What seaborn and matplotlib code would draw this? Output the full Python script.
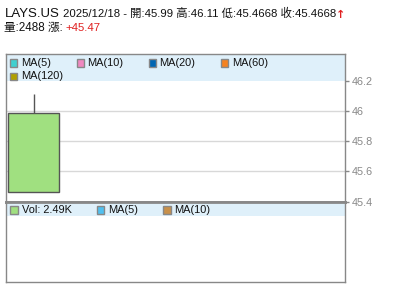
import matplotlib
matplotlib.use("Agg")
import matplotlib.pyplot as plt
from matplotlib.patches import Rectangle
import seaborn as sns
import pandas as pd

# ---- data ----
symbol = "LAYS.US"
date = "2025/12/18"
open_p = [45.99]
high_p = [46.11]
low_p = [45.4668]
close_p = [45.4668]
volume = [2488]
change = "+45.47"
price_ticks = [45.4, 45.6, 45.8, 46.0, 46.2]
price_tick_labels = ["45.4", "45.6", "45.8", "46", "46.2"]
price_legend = ["MA(5)", "MA(10)", "MA(20)", "MA(60)", "MA(120)"]
price_legend_colors = ["#40d0d0", "#f088c0", "#0066b3", "#f58220", "#b0a000"]
vol_legend = ["Vol: 2.49K", "MA(5)", "MA(10)"]
vol_legend_colors = ["#a0e080", "#50c0f0", "#c8904a"]

sns.set_theme(style="white")
plt.rcParams['font.family'] = ['Liberation Sans', 'Noto Sans CJK TC', 'DejaVu Sans']

W, H = 400, 301
fig = plt.figure(figsize=(W / 100, H / 100), dpi=100)

def fx(x):
    return x / W

def fy(y):
    return 1 - y / H

BAND = "#dff0fa"
BORDER = "#888888"

axp = fig.add_axes([fx(5.5), fy(201.7), fx(345) - fx(5.5), fy(54) - fy(201.7)])
axv = fig.add_axes([fx(5.5), fy(282.3), fx(345) - fx(5.5), fy(201.7) - fy(282.3)])

df = pd.DataFrame({"x": list(range(len(open_p))), "open": open_p, "high": high_p,
                   "low": low_p, "close": close_p, "volume": volume})

axp.set_xlim(-0.5, 5.5)
axp.set_ylim(45.4, 46.378)
axp.axhspan(46.2, 46.378, color=BAND, zorder=0, lw=0)
for t in [45.6, 45.8, 46.0]:
    axp.axhline(t, color="#d8d8d8", lw=1, zorder=1)

for _, r in df.iterrows():
    lo, hi = min(r.open, r.close), max(r.open, r.close)
    col = "#a0e080" if r.close <= r.open else "#ff8080"
    axp.vlines(r.x, hi, r.high, color="#555555", lw=1, zorder=2)
    axp.vlines(r.x, r.low, lo, color="#555555", lw=1, zorder=2)
    axp.bar(r.x, hi - lo, bottom=lo, width=0.9, color=col, edgecolor="#555555",
            linewidth=1, zorder=3)

axp.set_xticks([])
axp.yaxis.tick_right()
axp.set_yticks(price_ticks)
axp.set_yticklabels(price_tick_labels)
axp.tick_params(axis='y', which='both', right=True, length=3, width=1, color=BORDER,
                labelcolor="#888888", labelsize=7.8, pad=1.5)
for s in axp.spines.values():
    s.set_color(BORDER)
    s.set_linewidth(1)
axp.spines['bottom'].set_linewidth(2)

axv.set_xlim(-0.5, 5.5)
axv.set_ylim(0, 1)
axv.axhspan(0.82, 1.0, color=BAND, zorder=0, lw=0)
axv.set_xticks([])
axv.set_yticks([])
for s in axv.spines.values():
    s.set_color(BORDER)
    s.set_linewidth(1)
axv.spines['top'].set_linewidth(2)

def legend_item(sx, tx, yc, color, label):
    fig.patches.append(Rectangle((fx(sx), fy(yc + 3.6)), 7.3 / W, 7.3 / H,
                                 transform=fig.transFigure, facecolor=color,
                                 edgecolor=BORDER, lw=1, zorder=5))
    fig.text(fx(tx), fy(yc), label, fontsize=7.9, color="#111111", va="center",
             ha="left", zorder=6)

row1 = [(10, 21), (77, 87.3), (148.5, 159.3), (220.7, 231.7)]
for (sx, tx), lab, c in zip(row1, price_legend[:4], price_legend_colors[:4]):
    legend_item(sx, tx, 63, c, lab)
legend_item(10, 21, 76.5, price_legend_colors[4], price_legend[4])

vrow = [(10.3, 22), (96.7, 108.3), (163.3, 174.3)]
for (sx, tx), lab, c in zip(vrow, vol_legend, vol_legend_colors):
    legend_item(sx, tx, 210, c, lab)

fig.text(fx(4.5), fy(17.3), symbol, fontsize=9.5, color="#111111", va="baseline")
line1 = f"{date} - 開:{open_p[0]:.2f} 高:{high_p[0]:.2f} 低:{low_p[0]} 收:{close_p[0]}"
fig.text(fx(63), fy(17.3), line1, fontsize=8.2, color="#111111", va="baseline")
fig.text(fx(335.5), fy(18), "↑", fontsize=8, color="#e02020", va="baseline",
         fontweight="bold", family=["DejaVu Sans"])
fig.text(fx(4.5), fy(30.7), f"量:{volume[0]} 漲:", fontsize=8.4, color="#111111", va="baseline")
fig.text(fx(65), fy(30.7), change, fontsize=8.2, color="#e02020", va="baseline")

fig.savefig("out.png", dpi=100)
